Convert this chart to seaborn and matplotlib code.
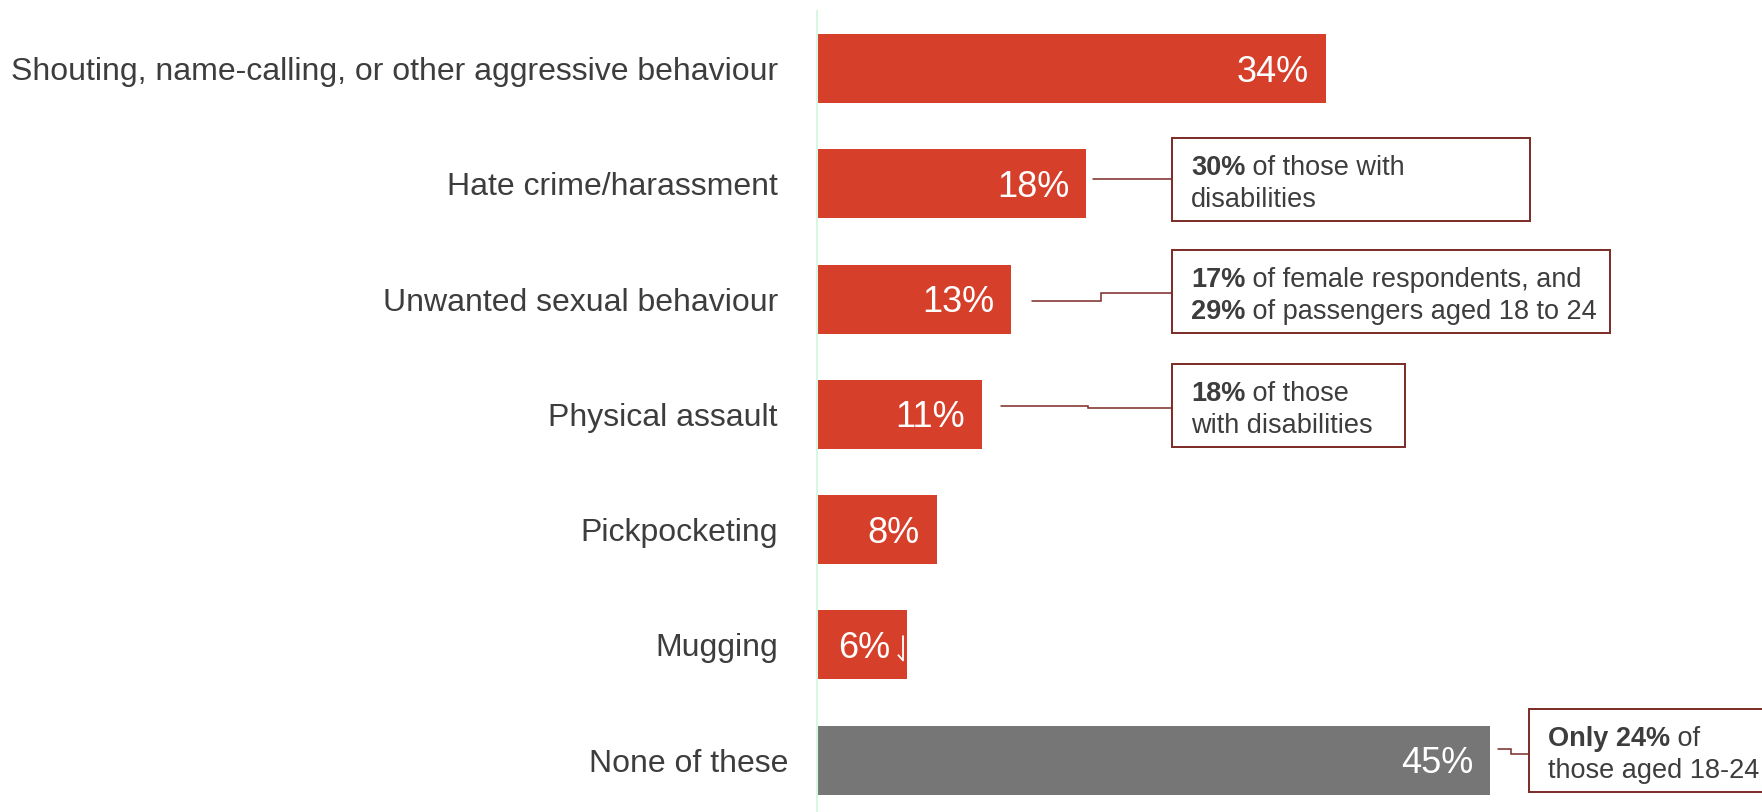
import matplotlib
matplotlib.use("Agg")
import matplotlib.pyplot as plt
import matplotlib.patches as mpatches
import seaborn as sns
import pandas as pd

# ---- data -------------------------------------------------------------
categories = [
    "Shouting, name-calling, or other aggressive behaviour",
    "Hate crime/harassment",
    "Unwanted sexual behaviour",
    "Physical assault",
    "Pickpocketing",
    "Mugging",
    "None of these",
]
values = [34, 18, 13, 11, 8, 6, 45]
value_labels = ["34%", "18%", "13%", "11%", "8%", "6%", "45%"]

# callout text: (row, [(bold part, regular part), ...])
callouts = [
    (1, [("30%", " of those with"), ("", "disabilities")]),
    (2, [("17%", " of female respondents, and"), ("29%", " of passengers aged 18 to 24")]),
    (3, [("18%", " of those"), ("", "with disabilities")]),
    (6, [("Only 24%", " of"), ("", "those aged 18-24")]),
]

# ---- style ------------------------------------------------------------
RED = "#D63F2A"
GREY = "#767676"
TEXT = "#3d3d3d"
BOX_EDGE = "#7b2a24"
AXIS_LINE = "#d6f7e2"
bar_colors = {c: (GREY if c == "None of these" else RED) for c in categories}

sns.set_theme(style="white")
plt.rcParams["font.family"] = ["Liberation Sans", "DejaVu Sans"]

W, H = 1762, 812
fig = plt.figure(figsize=(W / 100, (H + 0.5) / 100), dpi=100)
fig.patch.set_facecolor("white")
axis_x = 817
ax = fig.add_axes([axis_x / W, 0, (W - axis_x) / W, 801 / H])

df = pd.DataFrame({"category": categories, "value": values})
sns.barplot(
    data=df, x="value", y="category", hue="category", palette=bar_colors,
    orient="h", width=0.6, saturation=1, legend=False, ax=ax,
    edgecolor="none", linewidth=0,
)

ax.set_xlim(0, (W - axis_x) / 14.96)
ax.set_ylim(6.45, -0.504)
ax.set_xlabel("")
ax.set_ylabel("")
ax.set_xticks([])
ax.set_yticks(range(len(categories)))
ax.set_yticklabels([])
ax.tick_params(left=False, bottom=False)
for side in ("top", "right", "bottom"):
    ax.spines[side].set_visible(False)
ax.spines["left"].set_color(AXIS_LINE)
ax.spines["left"].set_linewidth(1.5)

# category labels
for i, cat in enumerate(categories):
    off = -29 if cat == "None of these" else -39
    ax.annotate(cat, xy=(0, i), xycoords=ax.get_yaxis_transform(),
                xytext=(off, -3), textcoords="offset pixels",
                ha="right", va="center", fontsize=23, color=TEXT,
                annotation_clip=False)

# value labels inside bar ends
for i, (v, lbl) in enumerate(zip(values, value_labels)):
    ax.annotate(lbl, xy=(v, i), xytext=(-17, -3), textcoords="offset pixels",
                ha="right", va="center", fontsize=26, color="white")

# small white stroke at the end of the mugging bar
ax.plot([5.41, 5.75, 5.75], [5.085, 5.135, 4.918], color="white", lw=1.3,
        solid_capstyle="butt")

# callout boxes and leader lines
box_layout = {
    1: dict(x0=23.73, w=23.9, yc=-0.034,
            leader=[(18.47, -0.044), (23.73, -0.044)]),
    2: dict(x0=23.73, w=29.3, yc=-0.063,
            leader=[(14.35, 0.015), (19.0, 0.015), (19.0, -0.054), (23.73, -0.054)]),
    3: dict(x0=23.73, w=15.6, yc=-0.073,
            leader=[(12.3, -0.073), (18.1, -0.073), (18.1, -0.054), (23.73, -0.054)]),
    6: dict(x0=47.6, w=16.5, yc=-0.08,
            leader=[(45.55, -0.093), (46.4, -0.093), (46.4, -0.054), (47.6, -0.054)]),
}
box_h = 0.72

for row, lines in callouts:
    lay = box_layout[row]
    yc = row + lay["yc"]
    rect = mpatches.Rectangle((lay["x0"], yc - box_h / 2), lay["w"], box_h,
                              facecolor="white", edgecolor=BOX_EDGE, lw=1.4,
                              zorder=3)
    ax.add_patch(rect)
    lx = [p[0] for p in lay["leader"]]
    ly = [row + p[1] for p in lay["leader"]]
    ax.plot(lx, ly, color=BOX_EDGE, lw=1.1, zorder=2, solid_joinstyle="miter")

    offsets = [12, -20]
    for (bold, regular), dy in zip(lines, offsets):
        if bold:
            t = ax.annotate(bold, xy=(lay["x0"], yc), xytext=(19, dy),
                            textcoords="offset pixels", ha="left", va="center",
                            fontsize=19.5, fontweight="bold", color=TEXT,
                            zorder=4)
            ax.annotate(regular, xy=(1, 0.5), xycoords=t, ha="left",
                        va="center", fontsize=19.5, color=TEXT, zorder=4)
        else:
            ax.annotate(regular, xy=(lay["x0"], yc), xytext=(19, dy),
                        textcoords="offset pixels", ha="left", va="center",
                        fontsize=19.5, color=TEXT, zorder=4)

fig.savefig("out.png", dpi=100, facecolor="white")
